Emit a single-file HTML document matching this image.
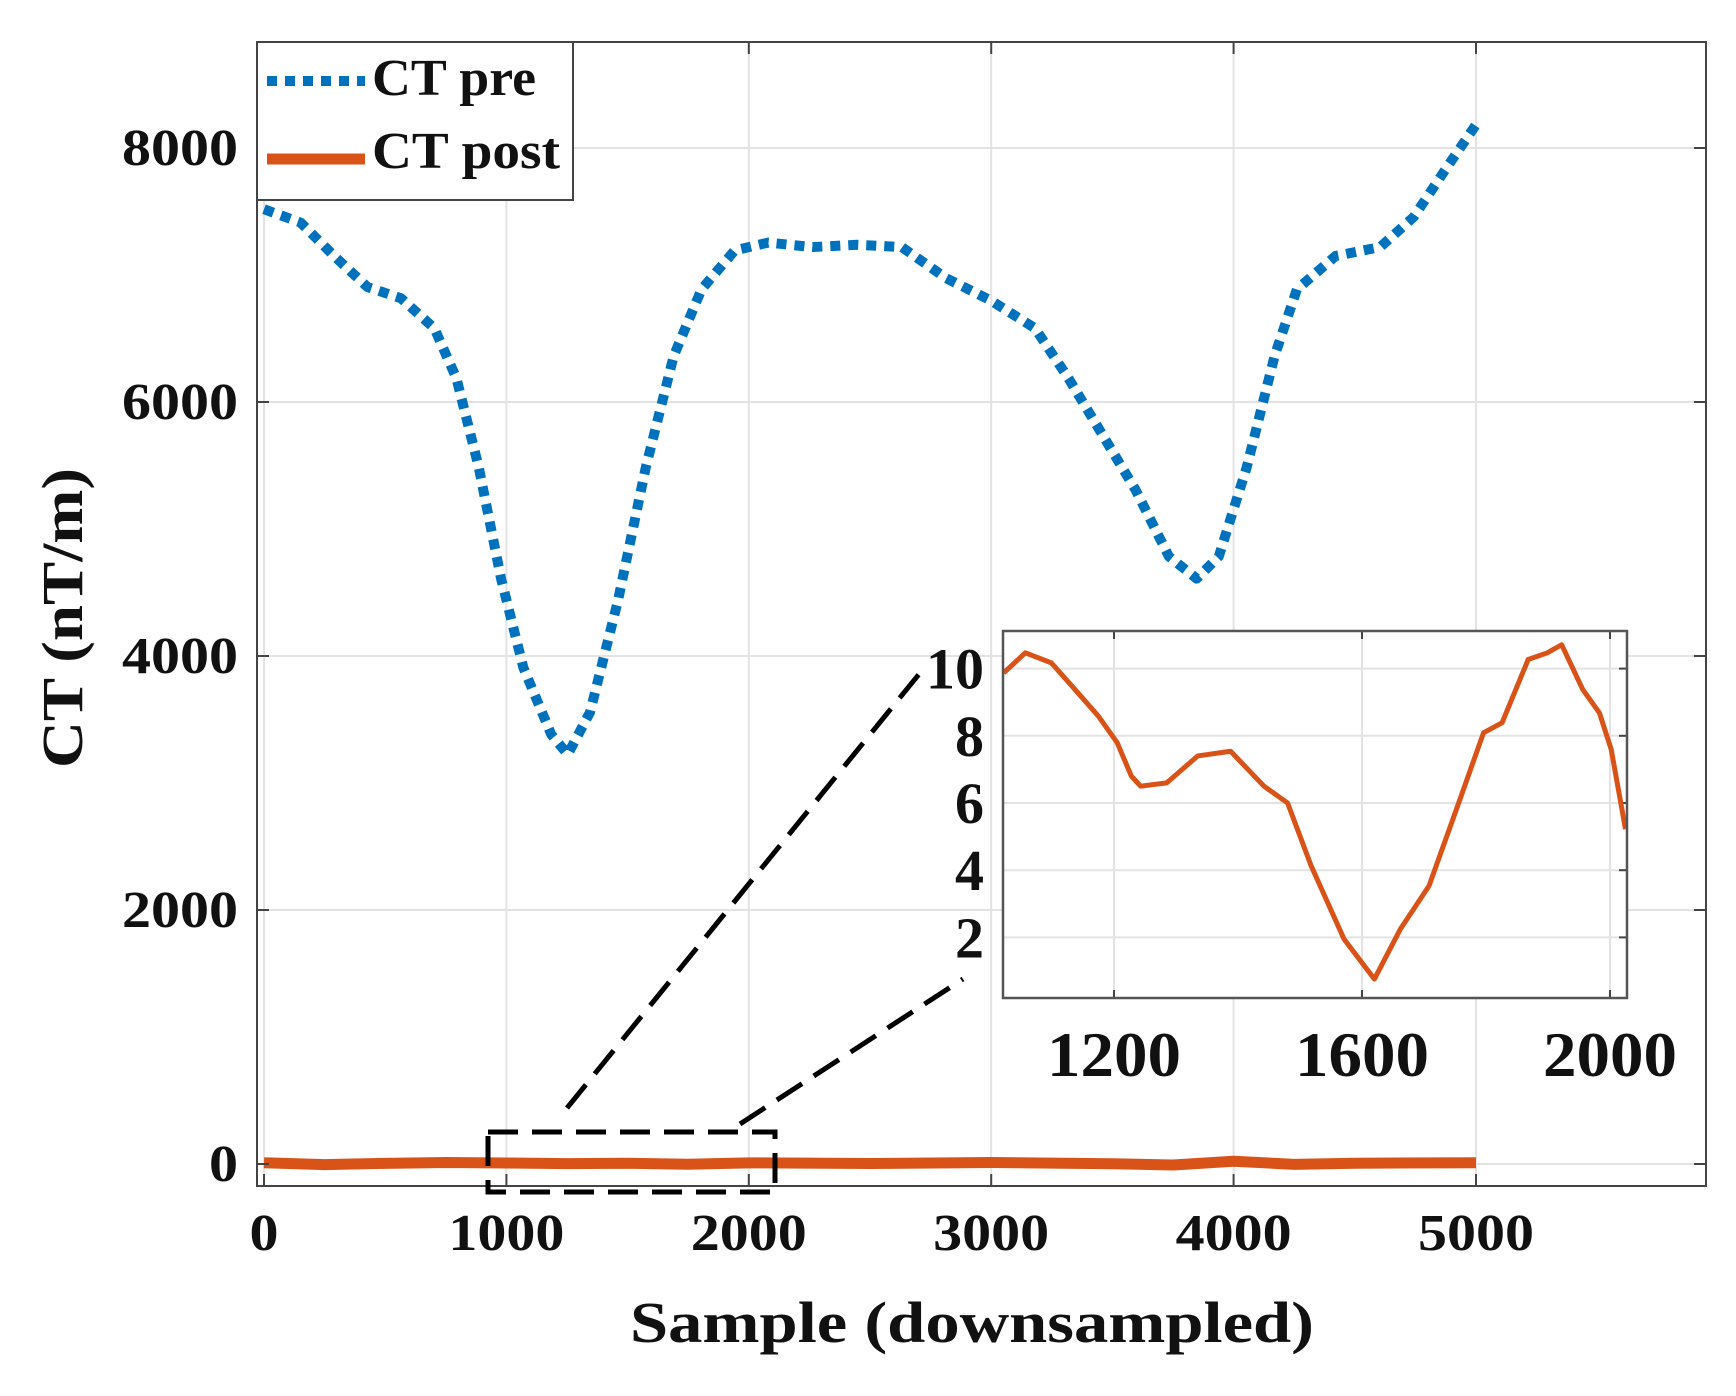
<!DOCTYPE html>
<html><head><meta charset="utf-8"><style>
html,body{margin:0;padding:0;background:#fff}
svg{display:block}
text{font-family:"Liberation Serif",serif;font-weight:bold;fill:#111}
</style></head><body>
<svg id="chart" width="1736" height="1396" viewBox="0 0 1736 1396" xmlns="http://www.w3.org/2000/svg">
<g id="main"></g>
<g id="inset"></g>
</svg>
<script>
const preX=[0,151,289,427,565,703,794,886,978,1070,1185,1253,1345,1460,1575,1690,1805,1942,2080,2263,2447,2631,2814,2998,3181,3319,3457,3595,3733,3848,3939,4054,4169,4261,4421,4605,4743,4881,5000];
const preY=[7518,7413,7150,6905,6817,6580,6186,5485,4609,3908,3382,3225,3557,4434,5485,6361,6887,7194,7255,7220,7238,7220,6975,6800,6580,6186,5748,5310,4784,4609,4784,5485,6361,6887,7150,7220,7457,7851,8184];
const postX=[0,250,500,750,1000,1250,1500,1750,2000,2500,3000,3500,3750,4000,4250,4500,5000];
const postY=[10,-5,5,12,8,3,6,-2,9,4,12,2,-8,22,-3,6,10];
const xTicks=[0,1000,2000,3000,4000,5000];
const yTicks=[0,2000,4000,6000,8000];
const insX=[1022,1057,1099,1137,1175,1205,1228,1243,1285,1335,1388,1442,1480,1518,1571,1620,1662,1708,1754,1796,1826,1868,1899,1922,1956,1983,2002,2025];
const insY=[9.87,10.47,10.17,9.38,8.58,7.8,6.8,6.5,6.6,7.4,7.54,6.5,6.0,4.13,1.95,0.76,2.25,3.53,5.9,8.09,8.39,10.27,10.47,10.71,9.38,8.68,7.59,5.22];
const insXTicks=[1200,1600,2000];
const insYTicks=[2,4,6,8,10];

const NS='http://www.w3.org/2000/svg';
function mk(p,tag,at,txt){const e=document.createElementNS(NS,tag);for(const k in at)e.setAttribute(k,at[k]);if(txt!==undefined)e.textContent=txt;p.appendChild(e);return e;}
const main=document.getElementById('main');
const L=257,R=1706,T=42,B=1186;
const xs=v=>264+v*242.4/1000;
const ys=v=>1164-v*254/2000;
xTicks.forEach(t=>{const g=mk(main,'line',{x1:xs(t),x2:xs(t),y1:T,y2:B,stroke:'#e3e3e3','stroke-width':2});

});
yTicks.forEach(t=>{const g=mk(main,'line',{x1:L,x2:R,y1:ys(t),y2:ys(t),stroke:'#e3e3e3','stroke-width':2});

});
const pre=mk(main,'polyline',{points:preX.map((x,i)=>xs(x)+','+ys(preY[i])).join(' '),fill:'none',stroke:'#0072BD','stroke-width':10,'stroke-dasharray':'10 8','stroke-linejoin':'round'});


const post=mk(main,'polyline',{points:postX.map((x,i)=>xs(x)+','+ys(postY[i])).join(' '),fill:'none',stroke:'#D95319','stroke-width':11,'stroke-linejoin':'round'});


const box=mk(main,'rect',{x:L,y:T,width:R-L,height:B-T,fill:'none',stroke:'#444','stroke-width':2});


xTicks.forEach(t=>{mk(main,'line',{x1:xs(t),x2:xs(t),y1:B,y2:B-12,stroke:'#444','stroke-width':2});mk(main,'line',{x1:xs(t),x2:xs(t),y1:T,y2:T+12,stroke:'#444','stroke-width':2});
const s=String(t);
const tl=mk(main,'text',{x:xs(t),y:1250,'text-anchor':'middle','font-size':52,textLength:29*s.length,lengthAdjust:'spacingAndGlyphs'},s);

});
yTicks.forEach(t=>{mk(main,'line',{x1:L,x2:L+12,y1:ys(t),y2:ys(t),stroke:'#444','stroke-width':2});mk(main,'line',{x1:R,x2:R-12,y1:ys(t),y2:ys(t),stroke:'#444','stroke-width':2});
const s=String(t);
const tl=mk(main,'text',{x:238,y:ys(t)+17,'text-anchor':'end','font-size':52,textLength:29*s.length,lengthAdjust:'spacingAndGlyphs'},s);

});
const xt=mk(main,'text',{x:972,y:1342,'text-anchor':'middle','font-size':58,textLength:684,lengthAdjust:'spacingAndGlyphs'},'Sample (downsampled)');


const yt=mk(main,'text',{x:0,y:0,'text-anchor':'middle','font-size':58,textLength:300,lengthAdjust:'spacingAndGlyphs',transform:'translate(82,618) rotate(-90)'},'CT (nT/m)');


const zb=mk(main,'rect',{x:488,y:1132,width:287,height:60,fill:'none',stroke:'#000','stroke-width':5,'stroke-dasharray':'30 14'});


const c1=mk(main,'line',{x1:567,y1:1108,x2:924,y2:668,stroke:'#000','stroke-width':5,'stroke-dasharray':'30 14'});


const c2=mk(main,'line',{x1:740,y1:1124,x2:963,y2:979,stroke:'#000','stroke-width':5,'stroke-dasharray':'30 14'});


const lg=mk(main,'g',{});


mk(lg,'rect',{x:L,y:T,width:316,height:158,fill:'#fff',stroke:'#444','stroke-width':2});
const le1=mk(lg,'line',{x1:267,x2:365,y1:81,y2:81,stroke:'#0072BD','stroke-width':10,'stroke-dasharray':'10 8'});


mk(lg,'text',{x:372,y:95,'font-size':52,textLength:164,lengthAdjust:'spacingAndGlyphs'},'CT pre');
const le2=mk(lg,'line',{x1:267,x2:365,y1:159,y2:159,stroke:'#D95319','stroke-width':11});


mk(lg,'text',{x:372,y:168,'font-size':52,textLength:188,lengthAdjust:'spacingAndGlyphs'},'CT post');
const ins=document.getElementById('inset');
const IL=1003,IR=1627,IT=631,IB=998;
const ixs=v=>1114+(v-1200)*248/400;
const iys=v=>803-(v-6)*33.6;
mk(ins,'rect',{x:IL,y:IT,width:IR-IL,height:IB-IT,fill:'#fff'});
insXTicks.forEach(t=>{mk(ins,'line',{x1:ixs(t),x2:ixs(t),y1:IT,y2:IB,stroke:'#e3e3e3','stroke-width':2});
mk(ins,'line',{x1:ixs(t),x2:ixs(t),y1:IB,y2:IB-8,stroke:'#444','stroke-width':2});
mk(ins,'line',{x1:ixs(t),x2:ixs(t),y1:IT,y2:IT+8,stroke:'#444','stroke-width':2});
const tl=mk(ins,'text',{x:ixs(t),y:1076,'text-anchor':'middle','font-size':64,textLength:134,lengthAdjust:'spacingAndGlyphs'},String(t));

});
insYTicks.forEach(t=>{mk(ins,'line',{x1:IL,x2:IR,y1:iys(t),y2:iys(t),stroke:'#e3e3e3','stroke-width':2});
mk(ins,'line',{x1:IR,x2:IR-8,y1:iys(t),y2:iys(t),stroke:'#444','stroke-width':2});
const tl=mk(ins,'text',{x:984,y:iys(t)+20,'text-anchor':'end','font-size':58},String(t));

});
const il=mk(ins,'polyline',{points:insX.map((x,i)=>ixs(x)+','+iys(insY[i])).join(' '),fill:'none',stroke:'#D95319','stroke-width':5,'stroke-linejoin':'round'});


mk(ins,'rect',{x:IL,y:IT,width:IR-IL,height:IB-IT,fill:'none',stroke:'#555','stroke-width':2.5});
</script>
</body></html>
